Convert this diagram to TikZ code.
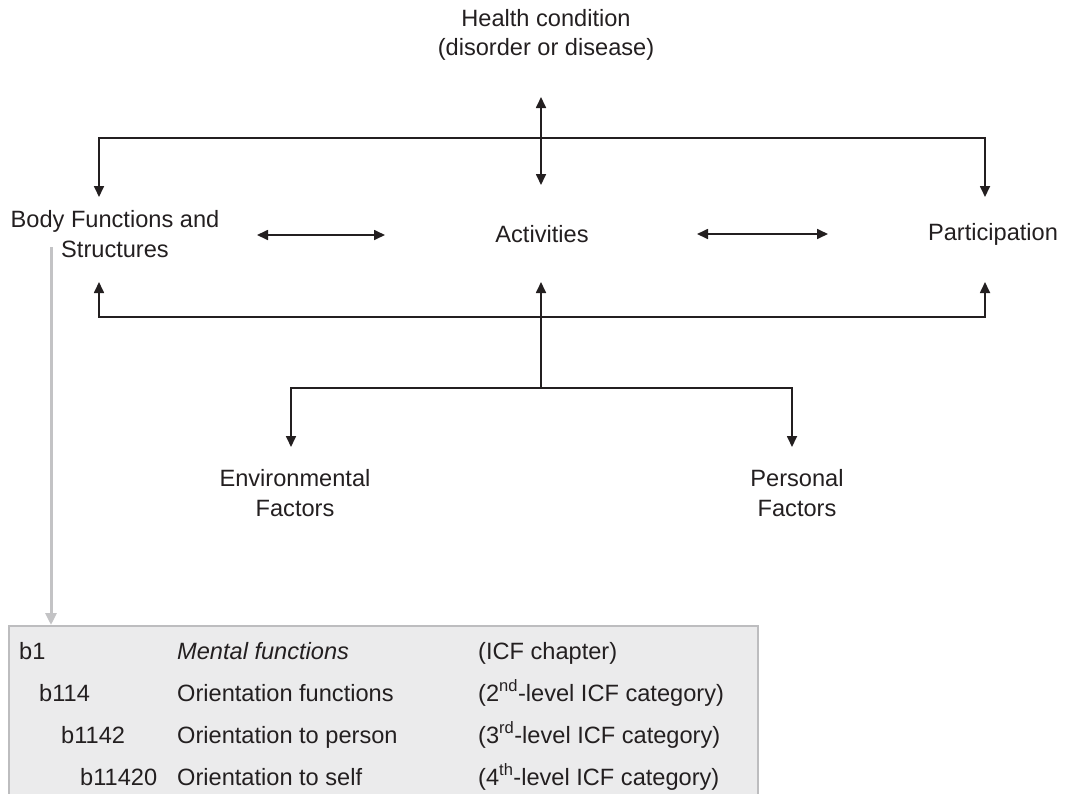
\documentclass[tikz,border=0pt]{standalone}
\usepackage{fontspec}
\setmainfont{Liberation Sans}
\usetikzlibrary{arrows.meta}
\definecolor{ink}{HTML}{231F20}
\definecolor{greyline}{HTML}{C3C3C5}
\definecolor{boxfill}{HTML}{EBEBEC}
\definecolor{boxdraw}{HTML}{BDBDBF}
\begin{document}
\begin{tikzpicture}[x=1pt,y=-1pt,
  lbl/.style={font=\fontsize{23.6}{29.5}\selectfont, text=ink, align=center, inner sep=0pt},
  conn/.style={draw=ink, line width=1.7pt},
  tipend/.style={-{Triangle[length=11pt,width=10pt]}},
  dtip/.style={{Triangle[length=11pt,width=10pt]}-{Triangle[length=11pt,width=10pt]}},
  cell/.style={font=\fontsize{23.6}{28}\selectfont, text=ink, anchor=base west, inner sep=0pt},
  greyarrow/.style={draw=greyline, line width=3pt, -{Triangle[length=12pt,width=11pt]}, greyline},
  tablebox/.style={fill=boxfill, draw=boxdraw, line width=1.5pt, anchor=north west, inner sep=0pt},
]
\useasboundingbox (0,0) rectangle (1071,793);

% nodes
\node[lbl] (hc) at (546,35) {Health condition\\(disorder or disease)};
\node[lbl] (bf) at (115,234) {Body Functions and\\Structures};
\node[lbl] (act) at (542,234) {Activities};
\node[lbl] (part) at (993,234) {Participation};
\node[lbl] (env) at (295,493) {Environmental\\Factors};
\node[lbl] (pers) at (797,493) {Personal\\Factors};

% connector ends
\coordinate (hcTop) at (541,97);
\coordinate (hcBot) at (541,185);
\coordinate (topMid) at (541,138);
\coordinate (topL) at (99,197);
\coordinate (topR) at (985,197);
\coordinate (botMid) at (541,317);
\coordinate (botL) at (99,282);
\coordinate (botR) at (985,282);
\coordinate (actBot) at (541,282);
\coordinate (branch) at (541,388);
\coordinate (envTip) at (291,447);
\coordinate (persTip) at (792,447);
\coordinate (lA) at (257,235);
\coordinate (lB) at (385,235);
\coordinate (rA) at (697,234);
\coordinate (rB) at (828,234);
\coordinate (gStart) at (51,247);

% connectors
\draw[conn,dtip] (hcTop) -- (hcBot);
\draw[conn,tipend] (topMid) -| (topL);
\draw[conn,tipend] (topMid) -| (topR);
\draw[conn,dtip] (lA) -- (lB);
\draw[conn,dtip] (rA) -- (rB);
\draw[conn,tipend] (botMid) -| (botL);
\draw[conn,tipend] (botMid) -| (botR);
\draw[conn,tipend] (branch) -- (actBot);
\draw[conn,tipend] (branch) -| (envTip);
\draw[conn,tipend] (branch) -| (persTip);

% table box
\node[tablebox, minimum width=749pt, minimum height=190pt] (tbl) at (8,625) {};
\draw[greyarrow] (gStart) -- (gStart |- tbl.north);

% table text
\node[cell] (r1a) at (19,659) {b1};
\node[cell] (r1b) at (177,659) {\itshape Mental functions};
\node[cell] (r1c) at (478,659) {(ICF chapter)};
\node[cell] (r2a) at (39,701) {b114};
\node[cell] (r2b) at (177,701) {Orientation functions};
\node[cell] (r2c) at (478,701) {(2\textsuperscript{nd}-level ICF category)};
\node[cell] (r3a) at (61,743) {b1142};
\node[cell] (r3b) at (177,743) {Orientation to person};
\node[cell] (r3c) at (478,743) {(3\textsuperscript{rd}-level ICF category)};
\node[cell] (r4a) at (80,785) {b11420};
\node[cell] (r4b) at (177,785) {Orientation to self};
\node[cell] (r4c) at (478,785) {(4\textsuperscript{th}-level ICF category)};
\end{tikzpicture}
\end{document}
